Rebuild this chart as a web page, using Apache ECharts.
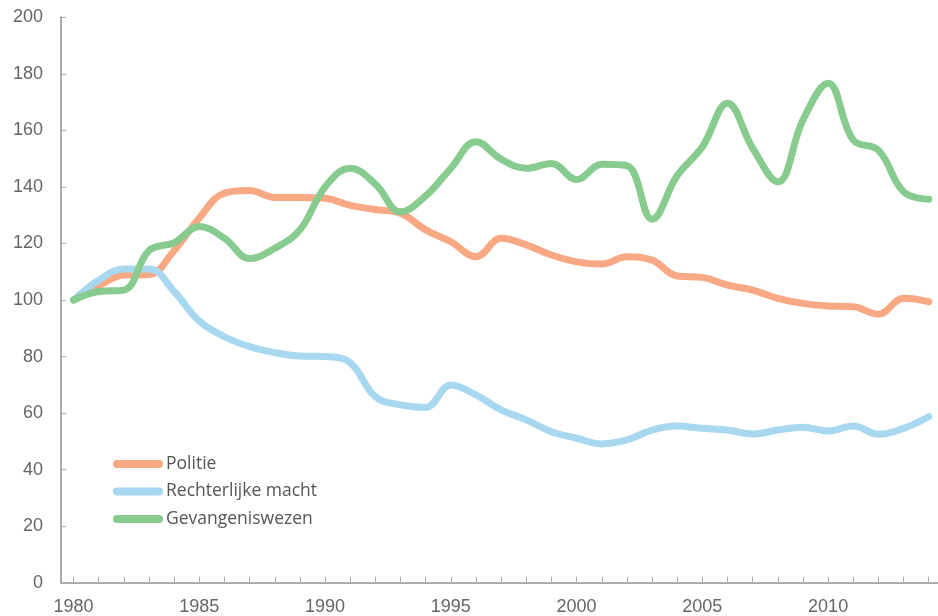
<!DOCTYPE html>
<html>
<head>
<meta charset="utf-8">
<script src="https://cdn.jsdelivr.net/npm/echarts@6/dist/echarts.min.js"></script>
<style>
  html, body { margin: 0; padding: 0; background: #ffffff; }
  #chart { width: 938px; height: 616px; }
</style>
</head>
<body>
<div id="chart"></div>
<script>
// Index (1980 = 100) per sector, yearly 1980–2014
const years = [];
for (let y = 1980; y <= 2014; y++) years.push(String(y));

const politie = [
  100, 105, 108.8, 109, 117.5, 129, 137.8, 138.7, 136.3, 136.3,
  136, 133.5, 132, 130.7, 124.8, 120.6, 115.3, 121.8, 119.5, 115.9,
  113.5, 112.7, 115.3, 114.1, 108.5, 108, 105.3, 103.5, 100.6, 98.8,
  97.9, 97.6, 95, 100.6, 99.4
];
const rechterlijkeMacht = [
  100, 107, 111, 111, 103, 92.5, 87, 83.5, 81.4, 80.2,
  80, 77.8, 65.8, 62.9, 62, 69.9, 66.4, 61.1, 57.6, 53.4,
  51.1, 49.1, 50.5, 54, 55.4, 54.6, 54, 52.6, 54, 55,
  53.7, 55.4, 52.5, 54.6, 58.7
];
const gevangeniswezen = [
  100, 103, 103.5, 117.5, 120.3, 126, 121.8, 114.7, 118.3, 124.8,
  140, 146.6, 141, 131.2, 136.8, 146.6, 156, 149.8, 146.6, 148.3,
  142.6, 148, 147.5, 128.6, 144, 154.2, 169.6, 153.7, 141.8, 163.7,
  176.7, 156.6, 153, 138.3, 135.6
];

const seriesNames = ['Politie', 'Rechterlijke macht', 'Gevangeniswezen'];
const seriesColors = ['#F8A882', '#A7D8F0', '#88CB8F'];
const seriesData = [politie, rechterlijkeMacht, gevangeniswezen];

const axisGray = '#ABABAB';
const labelGray = '#666666';

const chart = echarts.init(document.getElementById('chart'), null, { renderer: 'canvas' });

chart.setOption({
  animation: false,
  backgroundColor: '#ffffff',
  grid: {
    left: 61,
    top: 17.3,
    bottom: 33.3,
    right: -3.3,
    containLabel: false,
    outerBoundsMode: 'none'
  },
  legend: {
    orient: 'vertical',
    left: 113,
    top: 454,
    padding: 0,
    itemWidth: 50,
    itemHeight: 8,
    itemGap: 7.5,
    icon: 'path://M4,0 H46 A4,4 0 0 1 46,8 H4 A4,4 0 0 1 4,0 Z',
    textStyle: {
      fontFamily: 'Open Sans',
      fontSize: 17.5,
      color: '#555555',
      padding: [0, 0, 0, -2],
      lineHeight: 20
    },
    data: seriesNames
  },
  xAxis: {
    type: 'category',
    data: years,
    boundaryGap: true,
    axisLine: { show: true, lineStyle: { color: axisGray, width: 2 } },
    axisTick: {
      show: true,
      inside: true,
      length: 6,
      alignWithLabel: true,
      interval: 0,
      lineStyle: { color: axisGray, width: 1 }
    },
    axisLabel: {
      interval: 4,
      margin: 15,
      fontFamily: 'Liberation Sans',
      fontSize: 18,
      color: labelGray
    },
    splitLine: { show: false }
  },
  yAxis: {
    type: 'value',
    min: 0,
    max: 200,
    interval: 20,
    axisLine: { show: true, lineStyle: { color: axisGray, width: 2 } },
    axisTick: {
      show: true,
      inside: true,
      length: 5,
      lineStyle: { color: axisGray, width: 1 }
    },
    axisLabel: {
      margin: 18,
      fontFamily: 'Liberation Sans',
      fontSize: 18,
      color: labelGray
    },
    splitLine: { show: false }
  },
  series: seriesNames.map((name, i) => ({
    name: name,
    type: 'line',
    data: seriesData[i],
    smooth: 0.4,
    symbol: 'none',
    color: seriesColors[i],
    lineStyle: { width: 7, color: seriesColors[i], cap: 'round', join: 'round' },
    itemStyle: { color: seriesColors[i] },
    z: 2 + i
  }))
});
</script>
</body>
</html>
